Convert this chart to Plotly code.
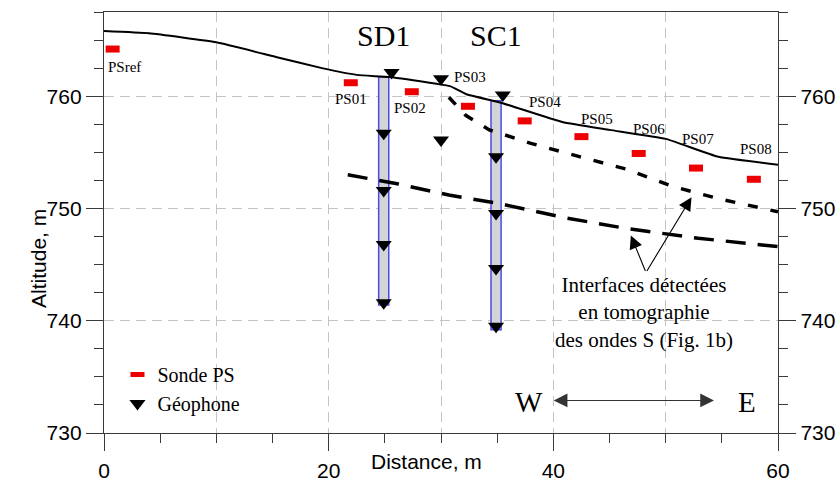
import plotly.graph_objects as go

# ---- data ----------------------------------------------------------------
# ground surface profile (distance m, altitude m)
surface_x = [0, 4, 10, 15.3, 19.4, 22.5, 25.4, 29.6, 30.8, 32.2, 35.4, 40.8, 45, 50, 54.7, 60]
surface_y = [765.8, 765.6, 764.8, 763.5, 762.5, 761.9, 761.7, 761.1, 760.9, 760.2, 759.4,
             757.7, 757.0, 756.2, 754.6, 753.9]

# interfaces from S-wave tomography
upper_if_x = [30.7, 32.2, 34.3, 38.0, 42.4, 46.5, 50.5, 54.6, 60]
upper_if_y = [759.9, 758.3, 757.0, 755.8, 754.6, 753.5, 752.0, 750.9, 749.7]
lower_if_x = [21.7, 26.1, 30.7, 35.1, 40.9, 46.6, 52.9, 60]
lower_if_y = [753.0, 752.2, 751.2, 750.45, 749.2, 748.2, 747.35, 746.6]

# PS probe positions
ps_names = ["PSref", "PS01", "PS02", "PS03", "PS04", "PS05", "PS06", "PS07", "PS08"]
ps_x = [0.77, 21.97, 27.4, 32.4, 37.45, 42.5, 47.6, 52.7, 57.85]
ps_y = [764.2, 761.2, 760.4, 759.1, 757.8, 756.4, 754.9, 753.6, 752.6]

# geophones (surface and in boreholes)
geo_x = [25.6, 30.0, 35.5, 30.0,
         24.9, 24.9, 24.9, 24.9,
         34.9, 34.9, 34.9, 34.9]
geo_y = [762.1, 761.55, 760.1, 756.1,
         756.7, 751.6, 746.8, 741.6,
         754.6, 749.55, 744.65, 739.5]

# boreholes
bh_names = ["SD1", "SC1"]
bh_x = [24.9, 34.9]
bh_top = [761.7, 759.6]
bh_bottom = [741.4, 739.2]

x_range = [0, 60]
y_range = [730, 767.5]

# ---- styles --------------------------------------------------------------
SERIF = "Liberation Serif"
SANS = "Liberation Sans"
AXIS_COL = "#3a3a3a"
GRID_COL = "#c4c4c4"

# label offsets (px) for the PS names relative to their probe
ps_label_dx = [12, 0, -2, 2, 20, 16, 10, 2, 2]
ps_label_dy = [-18, -16, -16, 29, 19, 18, 24, 29, 30]

fig = go.Figure()

# boreholes as floating bars
fig.add_trace(go.Bar(
    x=bh_x,
    y=[t - b for t, b in zip(bh_top, bh_bottom)],
    base=bh_bottom,
    width=0.9,
    marker=dict(color="#d4d4d4", line=dict(color="#4b4be6", width=1.5)),
    showlegend=False, hoverinfo="skip",
))

# ground surface
fig.add_trace(go.Scatter(
    x=surface_x, y=surface_y, mode="lines",
    line=dict(color="black", width=2, shape="spline", smoothing=0.4),
    showlegend=False,
))

# tomography interfaces
fig.add_trace(go.Scatter(
    x=upper_if_x, y=upper_if_y, mode="lines",
    line=dict(color="black", width=3.5, dash="10px,13px"),
    showlegend=False,
))
fig.add_trace(go.Scatter(
    x=lower_if_x, y=lower_if_y, mode="lines",
    line=dict(color="black", width=3.5, dash="20px,12px"),
    showlegend=False,
))

# PS probes
fig.add_trace(go.Scatter(
    x=ps_x, y=ps_y, mode="markers", name="Sonde PS",
    marker=dict(symbol="line-ew", size=10, color="#ee0000",
                line=dict(color="#ee0000", width=7)),
))

# geophones
fig.add_trace(go.Scatter(
    x=geo_x, y=geo_y, mode="markers", name="Géophone",
    marker=dict(symbol="triangle-down", size=14, color="black"),
))

# empty trace carrying the secondary axes (x gridlines, right-hand altitude scale)
fig.add_trace(go.Scatter(x=[], y=[], xaxis="x2", yaxis="y2", showlegend=False))

annotations = []

# PS names
for name, x, y, dx, dy in zip(ps_names, ps_x, ps_y, ps_label_dx, ps_label_dy):
    annotations.append(dict(
        x=x, y=y, xref="x", yref="y", text=name, showarrow=False,
        xshift=dx, yshift=dy, font=dict(family=SERIF, size=15, color="black"),
    ))

# borehole names
for name, x in zip(bh_names, bh_x):
    annotations.append(dict(
        x=x, y=765.4, xref="x", yref="y", text=name, showarrow=False,
        font=dict(family=SERIF, size=30, color="black"),
    ))

# interface note and its arrows
note_x, note_y = 48.05, 740.7
apex_x, apex_y = 48.25, 744.3
annotations.append(dict(
    x=note_x, y=note_y, xref="x", yref="y", showarrow=False,
    text="Interfaces détectées<br>en tomographie<br>des ondes S (Fig. 1b)",
    align="center", font=dict(family=SERIF, size=21, color="black"),
))
for tip_x, tip_y in [(52.3, 751.0), (46.9, 747.6)]:
    annotations.append(dict(
        x=tip_x, y=tip_y, xref="x", yref="y", ax=apex_x, ay=apex_y,
        axref="x", ayref="y", text="", showarrow=True,
        arrowhead=2, arrowsize=2.4, arrowwidth=1.1, arrowcolor="black", standoff=0,
    ))

# W <-> E orientation
annotations.append(dict(
    x=54.3, y=732.9, xref="x", yref="y", ax=39.9, ay=732.9, axref="x", ayref="y",
    text="", showarrow=True, arrowside="end+start", arrowhead=2, startarrowhead=2,
    arrowsize=2.5, startarrowsize=2.5, arrowwidth=1.1, arrowcolor="#333",
))
annotations.append(dict(x=37.8, y=732.75, xref="x", yref="y", text="W", showarrow=False,
                        font=dict(family=SERIF, size=29, color="black")))
annotations.append(dict(x=57.2, y=732.75, xref="x", yref="y", text="E", showarrow=False,
                        font=dict(family=SERIF, size=29, color="black")))

# axis titles
annotations.append(dict(x=0.478, y=-0.100, xref="paper", yref="paper", text="Distance, m",
                        showarrow=False, font=dict(family=SANS, size=21, color="black")))
annotations.append(dict(x=-0.117, y=0.415, xref="paper", yref="paper", text="Altitude, m",
                        textangle=-90, showarrow=False,
                        font=dict(family=SANS, size=21, color="black")))

tick_font = dict(family=SANS, size=21, color="black")

fig.update_layout(
    width=840, height=487,
    margin=dict(l=104, r=62, t=12, b=54, pad=0),
    paper_bgcolor="white", plot_bgcolor="white",
    annotations=annotations,
    showlegend=True,
    legend=dict(x=0.02, y=0.185, xanchor="left", yanchor="top",
                bgcolor="rgba(0,0,0,0)", font=dict(family=SERIF, size=20, color="black"),
                itemsizing="trace", tracegroupgap=0),
    xaxis=dict(
        range=x_range, tick0=0, dtick=20, ticks="outside", ticklen=17, tickwidth=1.4,
        tickcolor=AXIS_COL, showline=True, linecolor=AXIS_COL, linewidth=1.4, mirror=True,
        showgrid=False, zeroline=False, tickfont=tick_font, automargin=False,
        ticklabelstandoff=2,
        minor=dict(tick0=0, dtick=5, ticks="outside", ticklen=9, tickwidth=1.4,
                   tickcolor=AXIS_COL, showgrid=False),
    ),
    xaxis2=dict(
        range=x_range, overlaying="x", anchor="y", tick0=0, dtick=10, automargin=False,
        showgrid=True, gridcolor=GRID_COL, griddash="10px,6px", gridwidth=1,
        showticklabels=False, ticks="", showline=False, zeroline=False,
    ),
    yaxis=dict(
        range=y_range, tick0=730, dtick=10, ticks="outside", ticklen=17, tickwidth=1.4,
        tickcolor=AXIS_COL, showline=True, linecolor=AXIS_COL, linewidth=1.4,
        showgrid=True, gridcolor=GRID_COL, griddash="10px,6px", gridwidth=1,
        zeroline=False, tickfont=tick_font, automargin=False,
        minor=dict(tick0=730, dtick=2.5, ticks="outside", ticklen=9, tickwidth=1.4,
                   tickcolor=AXIS_COL, showgrid=False),
    ),
    yaxis2=dict(
        range=y_range, overlaying="y", side="right", anchor="x", tick0=730, dtick=10,
        ticks="outside", ticklen=17, tickwidth=1.4, tickcolor=AXIS_COL,
        showline=True, linecolor=AXIS_COL, linewidth=1.4, showgrid=False, zeroline=False,
        tickfont=tick_font, automargin=False,
        minor=dict(tick0=730, dtick=2.5, ticks="outside", ticklen=9, tickwidth=1.4,
                   tickcolor=AXIS_COL, showgrid=False),
    ),
)

fig.write_html("out.html")
